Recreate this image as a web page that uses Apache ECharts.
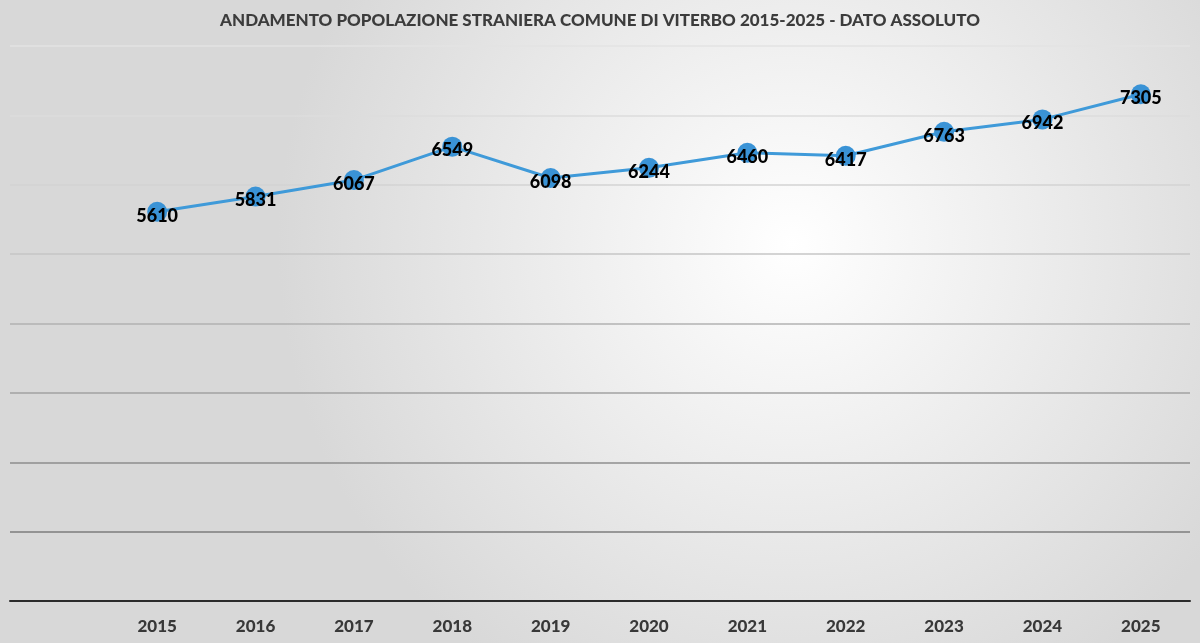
<!DOCTYPE html>
<html>
<head>
    <meta charset="utf-8">
    <title>Popolazione straniera Viterbo</title>
    <script src="https://cdn.jsdelivr.net/npm/echarts@6/dist/echarts.min.js"></script>
    <style>
        html, body { margin: 0; padding: 0; }
        #main { width: 1200px; height: 643px; }
    </style>
</head>
<body>
    <div id="main"></div>
    <script>
        // dati
        var anni = ['2015', '2016', '2017', '2018', '2019', '2020', '2021', '2022', '2023', '2024', '2025'];
        var stranieri = [5610, 5831, 6067, 6549, 6098, 6244, 6460, 6417, 6763, 6942, 7305];
        var yMin = 0, yMax = 8000, yStep = 1000;

        var myChart = echarts.init(document.getElementById('main'));
        var font = 'Lato, "Open Sans", sans-serif';

        myChart.setOption({
            animation: false,
            backgroundColor: {
                type: 'radial', x: 0.66, y: 0.38, r: 0.8,
                colorStops: [
                    { offset: 0, color: '#ffffff' },
                    { offset: 1, color: '#d8d8d8' }
                ]
            },
            title: {
                text: 'ANDAMENTO POPOLAZIONE STRANIERA COMUNE DI VITERBO 2015-2025 - DATO ASSOLUTO',
                left: 'center',
                top: 7,
                textStyle: { fontFamily: font, fontSize: 17, fontWeight: 900, color: '#3c3c3c' }
            },
            // grid 0: solo griglia orizzontale a tutta larghezza, grid 1: la linea
            grid: [
                { left: 10, right: 10, top: 46, bottom: 42 },
                { left: 108, right: 10, top: 46, bottom: 42 }
            ],
            xAxis: [
                {
                    gridIndex: 0, type: 'category', data: anni,
                    axisLine: { lineStyle: { color: '#2b2b2b', width: 2 } },
                    axisTick: { show: false }, axisLabel: { show: false }
                },
                {
                    gridIndex: 1, type: 'category', data: anni,
                    axisLine: { show: false }, axisTick: { show: false },
                    axisLabel: {
                        margin: 17,
                        fontFamily: font, fontSize: 17, fontWeight: 900, color: '#383838'
                    }
                }
            ],
            yAxis: [
                {
                    gridIndex: 0, type: 'value', min: yMin, max: yMax, interval: yStep,
                    axisLabel: { show: false },
                    splitLine: {
                        lineStyle: {
                            width: 1.5,
                            color: ['#2b2b2b', '#7d7d7d', '#8e8e8e', '#a2a2a2', '#b2b2b2',
                                    '#c6c6c6', '#d3d3d3', '#dddddd', '#e3e3e3']
                        }
                    }
                },
                {
                    gridIndex: 1, type: 'value', min: yMin, max: yMax, interval: yStep,
                    axisLabel: { show: false }, splitLine: { show: false }
                }
            ],
            series: [{
                name: 'stranieri',
                type: 'line',
                xAxisIndex: 1,
                yAxisIndex: 1,
                data: stranieri,
                symbol: 'circle',
                symbolSize: 20,
                itemStyle: { color: '#3a93d6' },
                lineStyle: { color: '#3f9ad9', width: 3 },
                label: {
                    show: true,
                    position: 'inside',
                    offset: [0, 4],
                    fontFamily: font, fontSize: 18, fontWeight: 900, color: '#000'
                }
            }]
        });
    </script>
</body>
</html>
